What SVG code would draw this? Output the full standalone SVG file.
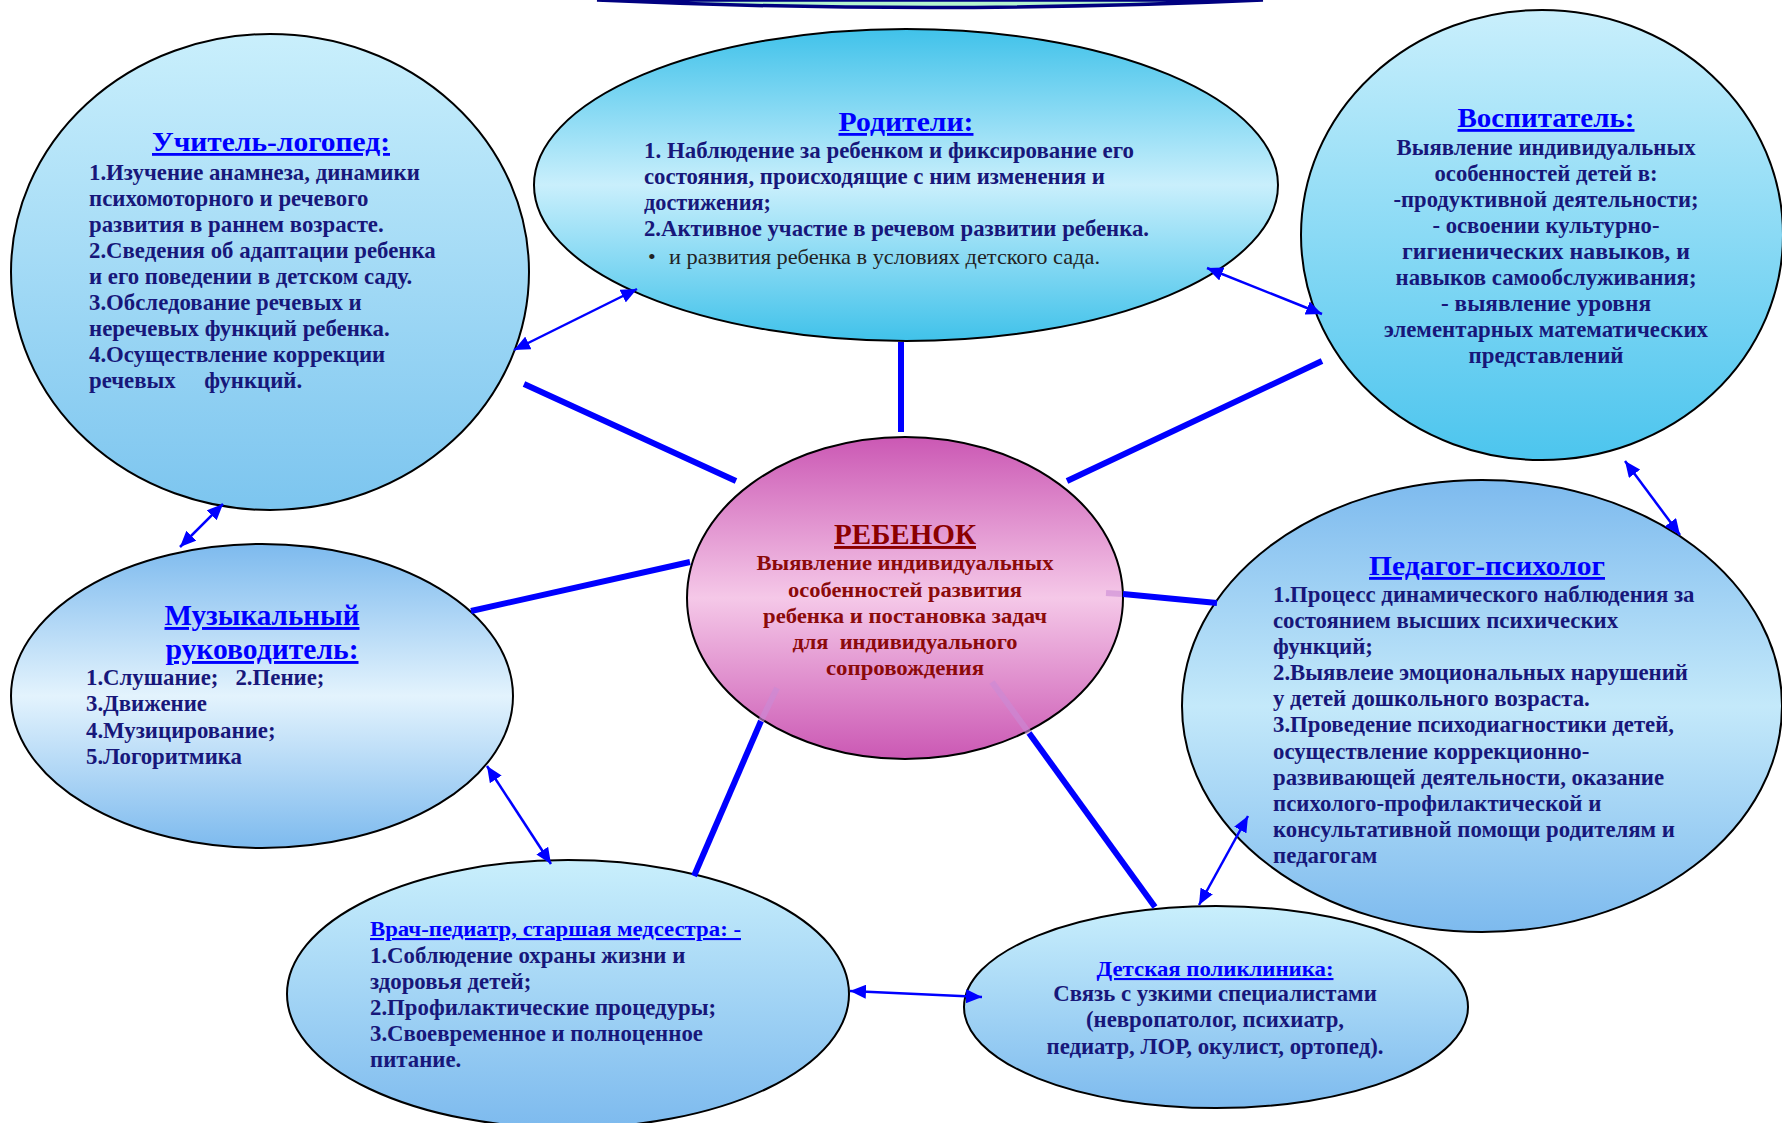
<svg xmlns="http://www.w3.org/2000/svg" width="1782" height="1123" viewBox="0 0 1782 1123">
<style>
text{font-family:"Liberation Serif","Times New Roman",serif;}
.node{stroke:#000;stroke-width:2;}
.ttl{font-weight:bold;fill:#0000FF;text-decoration:underline;}
.bd{font-weight:bold;fill:#17177A;font-size:22.8px;}
.rd{font-weight:bold;fill:#8B0A0A;font-size:22px;}
.mid{text-anchor:middle;}
.thick{stroke:#0000FF;stroke-width:6;fill:none;}
.faint{stroke:#C98AD6;stroke-width:6;opacity:0.6;fill:none;}
.thin{stroke:#0000FF;stroke-width:2.5;fill:none;marker-start:url(#ah);marker-end:url(#ah);}
</style>
<defs>
<marker id="ah" markerUnits="userSpaceOnUse" viewBox="0 0 16 14" refX="16" refY="7" markerWidth="16" markerHeight="14" orient="auto-start-reverse">
<path d="M0,0 L16,7 L0,14 Z" fill="#0000FF"/>
</marker>
<linearGradient id="gUch" x1="0" y1="0" x2="0" y2="1"><stop offset="0" stop-color="#C9EFFC"/><stop offset="1" stop-color="#7CC5EF"/></linearGradient>
<linearGradient id="gRod" x1="0" y1="0" x2="0" y2="1"><stop offset="0" stop-color="#40C2EA"/><stop offset="0.5" stop-color="#C9EFFC"/><stop offset="1" stop-color="#40C2EA"/></linearGradient>
<linearGradient id="gVos" x1="0" y1="0" x2="0" y2="1"><stop offset="0" stop-color="#C9EFFC"/><stop offset="1" stop-color="#4CC5EE"/></linearGradient>
<linearGradient id="gMus" x1="0" y1="0" x2="0" y2="1"><stop offset="0" stop-color="#7DBAEE"/><stop offset="0.5" stop-color="#E3F3FD"/><stop offset="1" stop-color="#7DBAEE"/></linearGradient>
<linearGradient id="gPed" x1="0" y1="0" x2="0" y2="1"><stop offset="0" stop-color="#7DBAEE"/><stop offset="0.5" stop-color="#C4E9FA"/><stop offset="1" stop-color="#7DBAEE"/></linearGradient>
<linearGradient id="gLow" x1="0" y1="0" x2="0" y2="1"><stop offset="0" stop-color="#C9EFFC"/><stop offset="1" stop-color="#7DBAEE"/></linearGradient>
<linearGradient id="gReb" x1="0" y1="0" x2="0" y2="1"><stop offset="0" stop-color="#CB58B4"/><stop offset="0.5" stop-color="#F5C8E8"/><stop offset="1" stop-color="#CB58B4"/></linearGradient>
</defs>
<rect width="1782" height="1123" fill="#FFFFFF"/>

<g id="top-shape">
<path d="M597,0 Q930,15 1263,0 Z" fill="#B5F5CF" stroke="#000080" stroke-width="3.5"/>
</g>

<g id="uchitel">
<ellipse class="node" cx="270" cy="272" rx="259" ry="238" fill="url(#gUch)"/>
<text class="ttl mid" x="271" y="151" font-size="28" textLength="238" lengthAdjust="spacingAndGlyphs">Учитель-логопед:</text>
<text class="bd" x="89" y="180">1.Изучение анамнеза, динамики</text>
<text class="bd" x="89" y="206">психомоторного и речевого</text>
<text class="bd" x="89" y="232">развития в раннем возрасте.</text>
<text class="bd" x="89" y="258">2.Сведения об адаптации ребенка</text>
<text class="bd" x="89" y="284">и его поведении в детском саду.</text>
<text class="bd" x="89" y="310">3.Обследование речевых и</text>
<text class="bd" x="89" y="336">неречевых функций ребенка.</text>
<text class="bd" x="89" y="362">4.Осуществление коррекции</text>
<text class="bd" x="89" y="388" xml:space="preserve">речевых     функций.</text>
</g>

<g id="roditeli">
<ellipse class="node" cx="906" cy="185" rx="372" ry="156" fill="url(#gRod)"/>
<text class="ttl mid" x="906" y="131" font-size="28" textLength="135" lengthAdjust="spacingAndGlyphs">Родители:</text>
<text class="bd" x="644" y="158" font-size="23" textLength="490" lengthAdjust="spacingAndGlyphs">1. Наблюдение за ребенком и фиксирование его</text>
<text class="bd" x="644" y="184" font-size="23" textLength="461" lengthAdjust="spacingAndGlyphs">состояния, происходящие с ним изменения и</text>
<text class="bd" x="644" y="210" font-size="23" textLength="127" lengthAdjust="spacingAndGlyphs">достижения;</text>
<text class="bd" x="644" y="236" font-size="23" textLength="505" lengthAdjust="spacingAndGlyphs">2.Активное участие в речевом развитии ребенка.</text>
<text x="648" y="264" font-size="22" fill="#222222">•</text>
<text x="669" y="264" font-size="21" fill="#222222" textLength="431" lengthAdjust="spacingAndGlyphs">и развития ребенка в условиях детского сада.</text>
</g>

<g id="vospitatel">
<ellipse class="node" cx="1542" cy="235" rx="241" ry="225" fill="url(#gVos)"/>
<text class="ttl mid" x="1546" y="127" font-size="28" textLength="177" lengthAdjust="spacingAndGlyphs">Воспитатель:</text>
<text class="bd mid" x="1546" y="155" textLength="299" lengthAdjust="spacingAndGlyphs">Выявление индивидуальных</text>
<text class="bd mid" x="1546" y="181" textLength="223" lengthAdjust="spacingAndGlyphs">особенностей детей в:</text>
<text class="bd mid" x="1546" y="207" textLength="305" lengthAdjust="spacingAndGlyphs">-продуктивной деятельности;</text>
<text class="bd mid" x="1546" y="233" textLength="227" lengthAdjust="spacingAndGlyphs">- освоении культурно-</text>
<text class="bd mid" x="1546" y="259" textLength="288" lengthAdjust="spacingAndGlyphs">гигиенических навыков, и</text>
<text class="bd mid" x="1546" y="285" textLength="301" lengthAdjust="spacingAndGlyphs">навыков самообслуживания;</text>
<text class="bd mid" x="1546" y="311" textLength="210" lengthAdjust="spacingAndGlyphs">- выявление уровня</text>
<text class="bd mid" x="1546" y="337" textLength="324" lengthAdjust="spacingAndGlyphs">элементарных математических</text>
<text class="bd mid" x="1546" y="363" textLength="155" lengthAdjust="spacingAndGlyphs">представлений</text>
</g>

<g id="muzykalny">
<ellipse class="node" cx="262" cy="696" rx="251" ry="152" fill="url(#gMus)"/>
<text class="ttl mid" x="262" y="625" font-size="29" textLength="195" lengthAdjust="spacingAndGlyphs">Музыкальный</text>
<text class="ttl mid" x="262" y="659" font-size="29" textLength="193" lengthAdjust="spacingAndGlyphs">руководитель:</text>
<text class="bd" x="86" y="685" xml:space="preserve">1.Слушание;   2.Пение;</text>
<text class="bd" x="86" y="711">3.Движение</text>
<text class="bd" x="86" y="738">4.Музицирование;</text>
<text class="bd" x="86" y="764">5.Логоритмика</text>
</g>

<g id="rebenok">
<ellipse class="node" cx="905" cy="598" rx="218" ry="161" fill="url(#gReb)"/>
<text class="mid" x="905" y="544" font-size="29" font-weight="bold" fill="#8B0000" text-decoration="underline" textLength="142" lengthAdjust="spacingAndGlyphs">РЕБЕНОК</text>
<text class="rd mid" x="905" y="570" textLength="297" lengthAdjust="spacingAndGlyphs">Выявление индивидуальных</text>
<text class="rd mid" x="905" y="597" textLength="234" lengthAdjust="spacingAndGlyphs">особенностей развития</text>
<text class="rd mid" x="905" y="623" textLength="284" lengthAdjust="spacingAndGlyphs">ребенка и постановка задач</text>
<text class="rd mid" x="905" y="649" textLength="225" lengthAdjust="spacingAndGlyphs" xml:space="preserve">для  индивидуального</text>
<text class="rd mid" x="905" y="675" textLength="158" lengthAdjust="spacingAndGlyphs">сопровождения</text>
</g>

<g id="pedagog">
<ellipse class="node" cx="1482" cy="706" rx="300" ry="226" fill="url(#gPed)"/>
<text class="ttl mid" x="1487" y="575" font-size="28" textLength="236" lengthAdjust="spacingAndGlyphs">Педагог-психолог</text>
<text class="bd" x="1273" y="602">1.Процесс динамического наблюдения за</text>
<text class="bd" x="1273" y="628">состоянием высших психических</text>
<text class="bd" x="1273" y="654">функций;</text>
<text class="bd" x="1273" y="680">2.Выявлеие эмоциональных нарушений</text>
<text class="bd" x="1273" y="706">у детей дошкольного возраста.</text>
<text class="bd" x="1273" y="732">3.Проведение психодиагностики детей,</text>
<text class="bd" x="1273" y="759">осуществление коррекционно-</text>
<text class="bd" x="1273" y="785">развивающей деятельности, оказание</text>
<text class="bd" x="1273" y="811">психолого-профилактической и</text>
<text class="bd" x="1273" y="837">консультативной помощи родителям и</text>
<text class="bd" x="1273" y="863">педагогам</text>
</g>

<g id="vrach">
<ellipse class="node" cx="568" cy="994" rx="281" ry="134" fill="url(#gLow)"/>
<text class="ttl" x="370" y="936" font-size="21" textLength="371" lengthAdjust="spacingAndGlyphs">Врач-педиатр, старшая медсестра: -</text>
<text class="bd" x="370" y="963">1.Соблюдение охраны жизни и</text>
<text class="bd" x="370" y="989">здоровья детей;</text>
<text class="bd" x="370" y="1015">2.Профилактические процедуры;</text>
<text class="bd" x="370" y="1041">3.Своевременное и полноценное</text>
<text class="bd" x="370" y="1067">питание.</text>
</g>

<g id="poliklinika">
<ellipse class="node" cx="1216" cy="1007" rx="252" ry="101" fill="url(#gLow)"/>
<text class="ttl mid" x="1215" y="976" font-size="21" textLength="237" lengthAdjust="spacingAndGlyphs">Детская поликлиника:</text>
<text class="bd mid" x="1215" y="1001">Связь с узкими специалистами</text>
<text class="bd mid" x="1215" y="1027">(невропатолог, психиатр,</text>
<text class="bd mid" x="1215" y="1054">педиатр, ЛОР, окулист, ортопед).</text>
</g>

<g id="connectors">
<line class="thick" x1="524" y1="384" x2="736" y2="481"/>
<line class="thick" x1="901" y1="342" x2="901" y2="432"/>
<line class="thick" x1="1322" y1="361" x2="1067" y2="481"/>
<line class="thick" x1="471" y1="611" x2="690" y2="562"/>
<line class="thick" x1="1123" y1="594" x2="1217" y2="603"/>
<line class="thick" x1="694" y1="876" x2="761" y2="721"/>
<line class="thick" x1="1155" y1="907" x2="1029" y2="733"/>
<line class="faint" x1="1106" y1="593" x2="1122" y2="594"/>
<line class="faint" x1="761" y1="721" x2="777" y2="688"/>
<line class="faint" x1="1029" y1="733" x2="992" y2="682"/>
<line class="thin" x1="514" y1="350" x2="637" y2="289"/>
<line class="thin" x1="1207" y1="268" x2="1322" y2="314"/>
<line class="thin" x1="223" y1="504" x2="180" y2="547"/>
<line class="thin" x1="1625" y1="461" x2="1680" y2="535"/>
<line class="thin" x1="487" y1="766" x2="551" y2="864"/>
<line class="thin" x1="1248" y1="816" x2="1199" y2="905"/>
<line class="thin" x1="850" y1="991" x2="982" y2="997"/>
</g>
</svg>
